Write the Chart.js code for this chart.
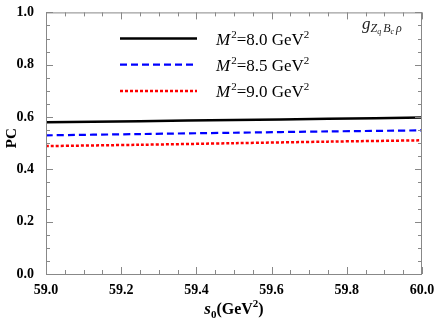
<!DOCTYPE html>
<html lang="en">
<head>
  <meta charset="utf-8">
  <title>PC vs s0</title>
  <style>
    body { margin: 0; background: #fff; }
    #wrap { width: 436px; height: 327px; }
  </style>
</head>
<body>
<div id="wrap"><canvas id="pcChart" width="436" height="327"></canvas></div>
<script src="https://cdn.jsdelivr.net/npm/chart.js"></script>
<script>
// data
const s0 = [59.0, 59.25, 59.5, 59.75, 60.0];
const pcM80 = [0.580, 0.584, 0.589, 0.593, 0.598];
const pcM85 = [0.530, 0.535, 0.540, 0.545, 0.549];
const pcM90 = [0.489, 0.494, 0.500, 0.506, 0.511];
const borelMasses = ['8.0', '8.5', '9.0'];
const seriesColors = ['#000000', '#0000ff', '#ff0000'];

const serif = '"Liberation Serif", "DejaVu Serif", serif';

function isMajor(v) {
  return Math.abs(v * 5 - Math.round(v * 5)) < 1e-6;
}

function pts(ys) {
  return s0.map((x, i) => ({ x: x, y: ys[i] }));
}

// frame, inward ticks, legend, annotation and axis titles
const decorations = {
  id: 'decorations',
  afterDraw(chart) {
    const ctx = chart.ctx;
    const a = chart.chartArea;
    const xs = chart.scales.x, ys = chart.scales.y;
    ctx.save();
    ctx.strokeStyle = '#888';
    ctx.lineWidth = 1;
    ctx.strokeRect(a.left + 0.5, a.top + 0.5, a.right - a.left - 1, a.bottom - a.top);
    ctx.beginPath();
    xs.ticks.forEach(t => {
      const px = Math.round(xs.getPixelForValue(t.value)) + 0.5;
      const len = isMajor(t.value) ? 7 : 4;
      ctx.moveTo(px, a.bottom); ctx.lineTo(px, a.bottom - len);
      ctx.moveTo(px, a.top); ctx.lineTo(px, a.top + len);
    });
    ys.ticks.forEach(t => {
      const py = Math.round(ys.getPixelForValue(t.value)) + 0.5;
      const len = isMajor(t.value) ? 7 : 4;
      ctx.moveTo(a.left, py); ctx.lineTo(a.left + len, py);
      ctx.moveTo(a.right, py); ctx.lineTo(a.right - len, py);
    });
    ctx.stroke();

    // legend
    ctx.textBaseline = 'alphabetic';
    ctx.textAlign = 'left';
    chart.data.datasets.forEach((ds, i) => {
      const y = ys.getPixelForValue(0.9 - 0.1 * i);
      ctx.strokeStyle = ds.borderColor;
      ctx.lineWidth = ds.borderWidth;
      ctx.setLineDash(ds.borderDash || []);
      ctx.beginPath();
      ctx.moveTo(a.left + 74, y);
      ctx.lineTo(a.left + 151, y);
      ctx.stroke();
      ctx.setLineDash([]);
      ctx.fillStyle = '#000';
      let x = a.left + 170;
      const base = y + 6;
      ctx.font = 'italic 17px ' + serif;
      ctx.fillText('M', x, base); x += ctx.measureText('M').width + 1;
      ctx.font = '11px ' + serif;
      ctx.fillText('2', x, base - 7); x += ctx.measureText('2').width;
      ctx.font = '17px ' + serif;
      const mid = '=' + borelMasses[i] + ' GeV';
      ctx.fillText(mid, x, base); x += ctx.measureText(mid).width;
      ctx.font = '11px ' + serif;
      ctx.fillText('2', x, base - 7);
    });

    // vertex label g_{Zq Bc rho}
    ctx.fillStyle = '#222';
    let gx = 362;
    const gb = 29;
    ctx.font = 'italic 17px ' + serif;
    ctx.fillText('g', gx, gb); gx += ctx.measureText('g').width;
    ctx.font = 'italic 12px ' + serif;
    ctx.fillText('Z', gx, gb + 3); gx += ctx.measureText('Z').width;
    ctx.font = 'italic 8px ' + serif;
    ctx.fillText('q', gx, gb + 5); gx += ctx.measureText('q').width + 2;
    ctx.font = 'italic 12px ' + serif;
    ctx.fillText('B', gx, gb + 3); gx += ctx.measureText('B').width;
    ctx.font = 'italic 8px ' + serif;
    ctx.fillText('c', gx, gb + 5); gx += ctx.measureText('c').width + 2;
    ctx.font = 'italic 12px ' + serif;
    ctx.fillText('\u03c1', gx, gb + 3);

    // x title: s0(GeV^2)
    ctx.fillStyle = '#000';
    const parts = [
      ['bold italic 17px ' + serif, 's', 0],
      ['bold 11px ' + serif, '0', 4],
      ['bold 16px ' + serif, '(GeV', 0],
      ['bold 11px ' + serif, '2', -7],
      ['bold 16px ' + serif, ')', 0]
    ];
    let w = 0;
    parts.forEach(p => { ctx.font = p[0]; w += ctx.measureText(p[1]).width; });
    let tx = (a.left + a.right) / 2 - w / 2;
    const tb = 314;
    parts.forEach(p => {
      ctx.font = p[0];
      ctx.fillText(p[1], tx, tb + p[2]);
      tx += ctx.measureText(p[1]).width;
    });

    // y title
    ctx.translate(16, (a.top + a.bottom) / 2 - 5);
    ctx.rotate(-Math.PI / 2);
    ctx.textAlign = 'center';
    ctx.font = 'bold 15px ' + serif;
    ctx.fillText('PC', 0, 0);
    ctx.restore();
  }
};

new Chart(document.getElementById('pcChart').getContext('2d'), {
  type: 'line',
  data: {
    datasets: [
      { data: pts(pcM80), borderColor: seriesColors[0], borderWidth: 2.5 },
      { data: pts(pcM85), borderColor: seriesColors[1], borderWidth: 2.2, borderDash: [7, 4] },
      { data: pts(pcM90), borderColor: seriesColors[2], borderWidth: 2.5, borderDash: [3, 2] }
    ]
  },
  options: {
    responsive: false,
    animation: false,
    layout: { padding: { top: 10, right: 14, left: 0, bottom: 0 } },
    elements: { point: { radius: 0 }, line: { tension: 0.3, fill: false } },
    plugins: { legend: { display: false }, tooltip: { enabled: false } },
    scales: {
      x: {
        type: 'linear', min: 59, max: 60,
        grid: { display: false },
        border: { display: false },
        afterFit(scale) { scale.height = 53; },
        ticks: {
          stepSize: 0.05, autoSkip: false, maxRotation: 0, padding: 0,
          color: '#000', font: { family: serif, size: 14, weight: 'bold' },
          callback: v => isMajor(v) ? v.toFixed(1) : ''
        }
      },
      y: {
        min: 0, max: 1,
        grid: { display: false },
        border: { display: false },
        afterFit(scale) { scale.width = 46; },
        ticks: {
          stepSize: 0.05, autoSkip: false, padding: 4,
          color: '#000', font: { family: serif, size: 14, weight: 'bold' },
          callback: v => isMajor(v) ? v.toFixed(1) : ''
        }
      }
    }
  },
  plugins: [decorations]
});
</script>
</body>
</html>
